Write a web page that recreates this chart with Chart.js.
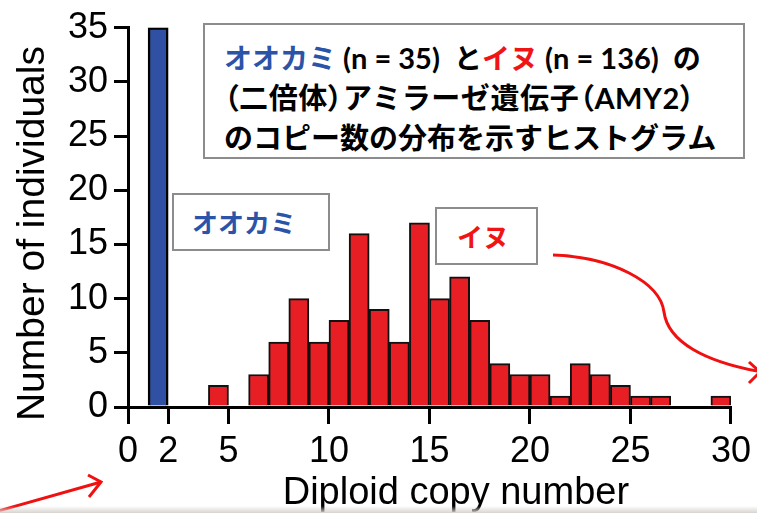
<!DOCTYPE html>
<html><head><meta charset="utf-8">
<script src="https://cdn.jsdelivr.net/npm/chart.js@4.4.0/dist/chart.umd.min.js"></script>
<style>
html,body{margin:0;padding:0;background:#fff;}
#wrap{position:relative;width:757px;height:513px;overflow:hidden;background:#fff;}
#c{position:absolute;left:0;top:0;}
.box{position:absolute;background:#fff;border:2px solid #8c8c8c;box-sizing:border-box;font-family:"Noto Sans CJK JP",sans-serif;font-weight:700;white-space:nowrap;}
#tbox{left:203px;top:23px;width:542px;height:136px;padding:12px 0 0 19px;font-size:29px;line-height:38px;color:#000;}
#tbox .l1{font-size:28px;}
#tbox .lat{font-family:"Lato","Noto Sans CJK JP",sans-serif;font-weight:700;font-size:29px;}
#tbox .p{font-feature-settings:"palt";}
#tbox .l2{letter-spacing:0.6px;}
.b{color:#2b54a8;}
.r{color:#f01414;}
#wbox{left:172px;top:193px;width:158px;height:58px;font-size:26px;line-height:54px;padding-left:18px;color:#2b54a8;}
#dbox{left:435px;top:207px;width:103px;height:58px;font-size:26px;line-height:54px;padding-left:20px;color:#f01414;}
#arrows{position:absolute;left:0;top:0;}
#shade{position:absolute;left:0;bottom:0;width:757px;height:7px;background:linear-gradient(#fff0,#d8d4d0);}
</style></head>
<body>
<div id="wrap">
<canvas id="c" width="757" height="513"></canvas>
<svg id="arrows" width="757" height="513">
  <path d="M553,255 C612,257 660,282 664,312 C668,342 705,362 762,372" fill="none" stroke="#f01010" stroke-width="3"/>
  <path d="M749,362 L760,372 L749,383" fill="none" stroke="#f01010" stroke-width="3"/>
  <path d="M-2,511 L101,482" fill="none" stroke="#f01010" stroke-width="3"/>
  <path d="M88,475 L101,482 L89,497" fill="none" stroke="#f01010" stroke-width="3"/>
</svg>
<div id="tbox" class="box"><span class="l1"><span class="b">オオカミ</span><span class="lat"> (n = 35)&nbsp; </span>と<span class="r">イヌ</span><span class="lat"> (n = 136)&nbsp; </span>の</span><br><span class="l2"><span class="p">（</span>二倍体<span class="p">）</span>アミラーゼ遺伝子<span class="p">（</span><span class="lat">AMY2</span><span class="p">）</span></span><br>のコピー数の分布を示すヒストグラム</div>
<div id="wbox" class="box">オオカミ</div>
<div id="dbox" class="box">イヌ</div>
<div id="shade"></div>
</div>
<script>
// Data (bin left edges, counts)
const wolfBins = [1];
const wolfCounts = [35];
const dogBins = [4, 6, 7, 8, 9, 10, 11, 12, 13, 14, 15, 16, 17, 18, 19, 20, 21, 22, 23, 24, 25, 26, 29];
const dogCounts = [2, 3, 6, 10, 6, 8, 16, 9, 6, 17, 10, 12, 8, 4, 3, 3, 1, 4, 3, 2, 1, 1, 1];
const xTickValues = [0, 2, 5, 10, 15, 20, 25, 30];
const yTickValues = [0, 5, 10, 15, 20, 25, 30, 35];
const xTitle = "Diploid copy number";
const yTitle = "Number of individuals";

const tickFont = {family: "'Liberation Sans', Arial, sans-serif", size: 36};
const titleFont = {family: "'Liberation Sans', Arial, sans-serif", size: 38, lineHeight: 1.05};

new Chart(document.getElementById('c'), {
  type: 'bar',
  data: {
    datasets: [
      {label: 'オオカミ', data: wolfBins.map((b, i) => ({x: b + 0.5, y: wolfCounts[i]})),
       backgroundColor: '#2f50a3', borderColor: '#000', borderWidth: 2.5},
      {label: 'イヌ', data: dogBins.map((b, i) => ({x: b + 0.5, y: dogCounts[i]})),
       backgroundColor: '#e81e25', borderColor: '#111', borderWidth: 2}
    ]
  },
  options: {
    responsive: false,
    devicePixelRatio: 1,
    animation: false,
    grouped: false,
    barPercentage: 1,
    categoryPercentage: 1,
    layout: {padding: {left: 0, right: 23, top: 25, bottom: 0}},
    plugins: {legend: {display: false}, tooltip: {enabled: false}},
    scales: {
      x: {
        type: 'linear', min: 0, max: 30, offset: false, z: 1,
        afterBuildTicks: s => { s.ticks = xTickValues.map(v => ({value: v})); },
        afterFit: s => { s.height = 106; },
        grid: {offset: false, drawOnChartArea: false, drawTicks: true, tickLength: 17, color: '#000', lineWidth: 3, tickColor: '#000', tickWidth: 3},
        border: {display: true, color: '#000', width: 3},
        ticks: {font: tickFont, color: '#000', padding: 6, autoSkip: false, maxRotation: 0},
        title: {display: true, text: '     ' + xTitle, font: titleFont, color: '#000', padding: {top: 0, bottom: 0}}
      },
      y: {
        min: 0, max: 35, z: 1,
        afterBuildTicks: s => { s.ticks = yTickValues.map(v => ({value: v})); },
        afterFit: s => { s.width = 128; },
        grid: {offset: false, drawOnChartArea: false, drawTicks: true, tickLength: 14, color: '#000', lineWidth: 3, tickColor: '#000', tickWidth: 3},
        border: {display: true, color: '#000', width: 3},
        ticks: {font: tickFont, color: '#000', padding: 6},
        title: {display: true, text: yTitle + '   ', font: {family: titleFont.family, size: 39}, color: '#000', padding: {top: 10, bottom: 0}}
      }
    }
  }
});
</script>
</body></html>
